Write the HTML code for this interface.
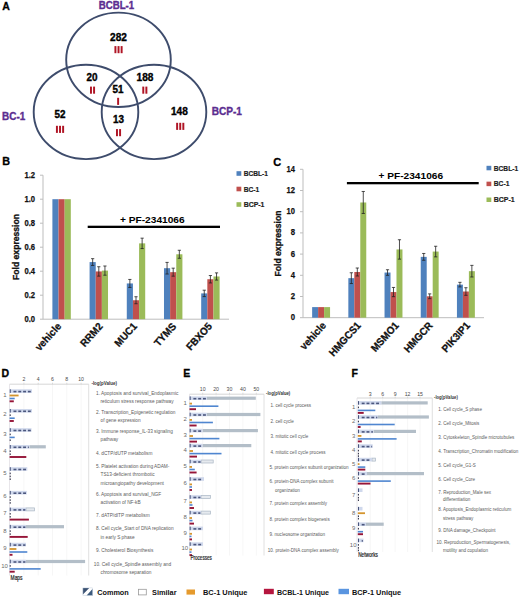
<!DOCTYPE html>
<html><head><meta charset="utf-8"><title>Figure</title>
<style>
html,body{margin:0;padding:0;background:#fff;}
body{width:520px;height:597px;overflow:hidden;}
svg{display:block;font-family:"Liberation Sans", sans-serif;}
</style></head>
<body>
<svg width="520" height="597" viewBox="0 0 520 597">
<rect x="0" y="0" width="520" height="597" fill="#fff"/>
<text x="2.30" y="9.80" font-size="10.5" font-weight="bold" fill="#000" stroke="#000" stroke-width="0.3">A</text>
<ellipse cx="118.5" cy="59.8" rx="52.3" ry="47.2" fill="none" stroke="#3e4c6c" stroke-width="1.9"/>
<ellipse cx="86.0" cy="111.9" rx="52.3" ry="47.2" fill="none" stroke="#3e4c6c" stroke-width="1.9"/>
<ellipse cx="154.0" cy="111.9" rx="52.3" ry="47.2" fill="none" stroke="#3e4c6c" stroke-width="1.9"/>
<text x="116.50" y="8.70" font-size="10.2" font-weight="bold" fill="#5b2d90" text-anchor="middle" textLength="35.4" lengthAdjust="spacingAndGlyphs" stroke="#5b2d90" stroke-width="0.35">BCBL-1</text>
<text x="13.70" y="119.70" font-size="10.7" font-weight="bold" fill="#5b2d90" text-anchor="middle" textLength="23.2" lengthAdjust="spacingAndGlyphs" stroke="#5b2d90" stroke-width="0.35">BC-1</text>
<text x="226.80" y="115.40" font-size="10.7" font-weight="bold" fill="#5b2d90" text-anchor="middle" textLength="30.3" lengthAdjust="spacingAndGlyphs" stroke="#5b2d90" stroke-width="0.35">BCP-1</text>
<text x="118.50" y="40.80" font-size="10" font-weight="bold" fill="#000" text-anchor="middle" textLength="16.9" lengthAdjust="spacingAndGlyphs" stroke="#000" stroke-width="0.35">282</text>
<rect x="114.45" y="46.10" width="1.95" height="7.10" fill="#b01525"/>
<rect x="117.55" y="46.10" width="1.95" height="7.10" fill="#b01525"/>
<rect x="120.65" y="46.10" width="1.95" height="7.10" fill="#b01525"/>
<text x="92.10" y="80.80" font-size="10" font-weight="bold" fill="#000" text-anchor="middle" textLength="11.0" lengthAdjust="spacingAndGlyphs" stroke="#000" stroke-width="0.35">20</text>
<rect x="90.00" y="86.60" width="1.95" height="7.10" fill="#b01525"/>
<rect x="93.10" y="86.60" width="1.95" height="7.10" fill="#b01525"/>
<text x="118.10" y="93.30" font-size="10" font-weight="bold" fill="#000" text-anchor="middle" textLength="11.0" lengthAdjust="spacingAndGlyphs" stroke="#000" stroke-width="0.35">51</text>
<rect x="117.15" y="97.80" width="1.95" height="7.10" fill="#b01525"/>
<text x="60.00" y="117.60" font-size="10" font-weight="bold" fill="#000" text-anchor="middle" textLength="11.0" lengthAdjust="spacingAndGlyphs" stroke="#000" stroke-width="0.35">52</text>
<rect x="55.95" y="125.80" width="1.95" height="7.10" fill="#b01525"/>
<rect x="59.05" y="125.80" width="1.95" height="7.10" fill="#b01525"/>
<rect x="62.15" y="125.80" width="1.95" height="7.10" fill="#b01525"/>
<text x="118.40" y="123.40" font-size="10" font-weight="bold" fill="#000" text-anchor="middle" textLength="11.0" lengthAdjust="spacingAndGlyphs" stroke="#000" stroke-width="0.35">13</text>
<rect x="116.00" y="129.10" width="1.95" height="7.10" fill="#b01525"/>
<rect x="119.10" y="129.10" width="1.95" height="7.10" fill="#b01525"/>
<text x="145.00" y="80.80" font-size="10" font-weight="bold" fill="#000" text-anchor="middle" textLength="16.9" lengthAdjust="spacingAndGlyphs" stroke="#000" stroke-width="0.35">188</text>
<rect x="142.30" y="86.60" width="1.95" height="7.10" fill="#b01525"/>
<rect x="145.40" y="86.60" width="1.95" height="7.10" fill="#b01525"/>
<text x="179.40" y="115.10" font-size="10" font-weight="bold" fill="#000" text-anchor="middle" textLength="16.9" lengthAdjust="spacingAndGlyphs" stroke="#000" stroke-width="0.35">148</text>
<rect x="176.15" y="122.80" width="1.95" height="7.10" fill="#b01525"/>
<rect x="179.25" y="122.80" width="1.95" height="7.10" fill="#b01525"/>
<rect x="182.35" y="122.80" width="1.95" height="7.10" fill="#b01525"/>
<text x="2.30" y="165.20" font-size="10.8" font-weight="bold" fill="#000" stroke="#000" stroke-width="0.3">B</text>
<line x1="43.00" y1="175.20" x2="43.00" y2="319.20" stroke="#bdbdbd" stroke-width="1"/>
<line x1="40.00" y1="319.20" x2="43.00" y2="319.20" stroke="#bdbdbd" stroke-width="1"/>
<text x="35.00" y="321.60" font-size="8.6" font-weight="bold" fill="#111" text-anchor="end" textLength="10.6" lengthAdjust="spacingAndGlyphs" stroke="#111" stroke-width="0.25">0.0</text>
<line x1="40.00" y1="295.20" x2="43.00" y2="295.20" stroke="#bdbdbd" stroke-width="1"/>
<text x="35.00" y="297.60" font-size="8.6" font-weight="bold" fill="#111" text-anchor="end" textLength="10.6" lengthAdjust="spacingAndGlyphs" stroke="#111" stroke-width="0.25">0.2</text>
<line x1="40.00" y1="271.20" x2="43.00" y2="271.20" stroke="#bdbdbd" stroke-width="1"/>
<text x="35.00" y="273.60" font-size="8.6" font-weight="bold" fill="#111" text-anchor="end" textLength="10.6" lengthAdjust="spacingAndGlyphs" stroke="#111" stroke-width="0.25">0.4</text>
<line x1="40.00" y1="247.20" x2="43.00" y2="247.20" stroke="#bdbdbd" stroke-width="1"/>
<text x="35.00" y="249.60" font-size="8.6" font-weight="bold" fill="#111" text-anchor="end" textLength="10.6" lengthAdjust="spacingAndGlyphs" stroke="#111" stroke-width="0.25">0.6</text>
<line x1="40.00" y1="223.20" x2="43.00" y2="223.20" stroke="#bdbdbd" stroke-width="1"/>
<text x="35.00" y="225.60" font-size="8.6" font-weight="bold" fill="#111" text-anchor="end" textLength="10.6" lengthAdjust="spacingAndGlyphs" stroke="#111" stroke-width="0.25">0.8</text>
<line x1="40.00" y1="199.20" x2="43.00" y2="199.20" stroke="#bdbdbd" stroke-width="1"/>
<text x="35.00" y="201.60" font-size="8.6" font-weight="bold" fill="#111" text-anchor="end" textLength="10.6" lengthAdjust="spacingAndGlyphs" stroke="#111" stroke-width="0.25">1.0</text>
<line x1="40.00" y1="175.20" x2="43.00" y2="175.20" stroke="#bdbdbd" stroke-width="1"/>
<text x="35.00" y="177.60" font-size="8.6" font-weight="bold" fill="#111" text-anchor="end" textLength="10.6" lengthAdjust="spacingAndGlyphs" stroke="#111" stroke-width="0.25">1.2</text>
<line x1="43.00" y1="319.20" x2="229.00" y2="319.20" stroke="#bdbdbd" stroke-width="1"/>
<rect x="52.39" y="199.20" width="6.14" height="120.00" fill="#4f81bd"/>
<rect x="58.53" y="199.20" width="6.14" height="120.00" fill="#c0504d"/>
<rect x="64.67" y="199.20" width="6.14" height="120.00" fill="#9bbb59"/>
<text transform="translate(61.90,326.80) rotate(-48)" font-size="10.4" font-weight="bold" fill="#111" stroke="#111" stroke-width="0.3" text-anchor="end" textLength="33.15" lengthAdjust="spacingAndGlyphs">vehicle</text>
<rect x="89.59" y="262.08" width="6.14" height="57.12" fill="#4f81bd"/>
<rect x="95.73" y="271.44" width="6.14" height="47.76" fill="#c0504d"/>
<rect x="101.87" y="270.60" width="6.14" height="48.60" fill="#9bbb59"/>
<line x1="92.66" y1="258.68" x2="92.66" y2="265.48" stroke="#222" stroke-width="0.8"/>
<line x1="91.06" y1="258.68" x2="94.26" y2="258.68" stroke="#222" stroke-width="0.8"/>
<line x1="91.06" y1="265.48" x2="94.26" y2="265.48" stroke="#222" stroke-width="0.8"/>
<line x1="98.80" y1="266.74" x2="98.80" y2="276.14" stroke="#222" stroke-width="0.8"/>
<line x1="97.20" y1="266.74" x2="100.40" y2="266.74" stroke="#222" stroke-width="0.8"/>
<line x1="97.20" y1="276.14" x2="100.40" y2="276.14" stroke="#222" stroke-width="0.8"/>
<line x1="104.94" y1="266.00" x2="104.94" y2="275.20" stroke="#222" stroke-width="0.8"/>
<line x1="103.34" y1="266.00" x2="106.54" y2="266.00" stroke="#222" stroke-width="0.8"/>
<line x1="103.34" y1="275.20" x2="106.54" y2="275.20" stroke="#222" stroke-width="0.8"/>
<text transform="translate(103.30,326.80) rotate(-48)" font-size="10.4" font-weight="bold" fill="#111" stroke="#111" stroke-width="0.3" text-anchor="end" textLength="27.70" lengthAdjust="spacingAndGlyphs">RRM2</text>
<rect x="126.79" y="283.44" width="6.14" height="35.76" fill="#4f81bd"/>
<rect x="132.93" y="300.24" width="6.14" height="18.96" fill="#c0504d"/>
<rect x="139.07" y="243.36" width="6.14" height="75.84" fill="#9bbb59"/>
<line x1="129.86" y1="279.44" x2="129.86" y2="287.44" stroke="#222" stroke-width="0.8"/>
<line x1="128.26" y1="279.44" x2="131.46" y2="279.44" stroke="#222" stroke-width="0.8"/>
<line x1="128.26" y1="287.44" x2="131.46" y2="287.44" stroke="#222" stroke-width="0.8"/>
<line x1="136.00" y1="296.74" x2="136.00" y2="303.74" stroke="#222" stroke-width="0.8"/>
<line x1="134.40" y1="296.74" x2="137.60" y2="296.74" stroke="#222" stroke-width="0.8"/>
<line x1="134.40" y1="303.74" x2="137.60" y2="303.74" stroke="#222" stroke-width="0.8"/>
<line x1="142.14" y1="238.16" x2="142.14" y2="248.56" stroke="#222" stroke-width="0.8"/>
<line x1="140.54" y1="238.16" x2="143.74" y2="238.16" stroke="#222" stroke-width="0.8"/>
<line x1="140.54" y1="248.56" x2="143.74" y2="248.56" stroke="#222" stroke-width="0.8"/>
<text transform="translate(137.60,326.80) rotate(-48)" font-size="10.4" font-weight="bold" fill="#111" stroke="#111" stroke-width="0.3" text-anchor="end" textLength="27.70" lengthAdjust="spacingAndGlyphs">MUC1</text>
<rect x="163.99" y="268.20" width="6.14" height="51.00" fill="#4f81bd"/>
<rect x="170.13" y="272.16" width="6.14" height="47.04" fill="#c0504d"/>
<rect x="176.27" y="254.28" width="6.14" height="64.92" fill="#9bbb59"/>
<line x1="167.06" y1="262.40" x2="167.06" y2="274.00" stroke="#222" stroke-width="0.8"/>
<line x1="165.46" y1="262.40" x2="168.66" y2="262.40" stroke="#222" stroke-width="0.8"/>
<line x1="165.46" y1="274.00" x2="168.66" y2="274.00" stroke="#222" stroke-width="0.8"/>
<line x1="173.20" y1="268.16" x2="173.20" y2="276.16" stroke="#222" stroke-width="0.8"/>
<line x1="171.60" y1="268.16" x2="174.80" y2="268.16" stroke="#222" stroke-width="0.8"/>
<line x1="171.60" y1="276.16" x2="174.80" y2="276.16" stroke="#222" stroke-width="0.8"/>
<line x1="179.34" y1="250.28" x2="179.34" y2="258.28" stroke="#222" stroke-width="0.8"/>
<line x1="177.74" y1="250.28" x2="180.94" y2="250.28" stroke="#222" stroke-width="0.8"/>
<line x1="177.74" y1="258.28" x2="180.94" y2="258.28" stroke="#222" stroke-width="0.8"/>
<text transform="translate(176.80,326.80) rotate(-48)" font-size="10.4" font-weight="bold" fill="#111" stroke="#111" stroke-width="0.3" text-anchor="end" textLength="27.16" lengthAdjust="spacingAndGlyphs">TYMS</text>
<rect x="201.19" y="293.40" width="6.14" height="25.80" fill="#4f81bd"/>
<rect x="207.33" y="279.24" width="6.14" height="39.96" fill="#c0504d"/>
<rect x="213.47" y="276.48" width="6.14" height="42.72" fill="#9bbb59"/>
<line x1="204.26" y1="290.20" x2="204.26" y2="296.60" stroke="#222" stroke-width="0.8"/>
<line x1="202.66" y1="290.20" x2="205.86" y2="290.20" stroke="#222" stroke-width="0.8"/>
<line x1="202.66" y1="296.60" x2="205.86" y2="296.60" stroke="#222" stroke-width="0.8"/>
<line x1="210.40" y1="275.54" x2="210.40" y2="282.94" stroke="#222" stroke-width="0.8"/>
<line x1="208.80" y1="275.54" x2="212.00" y2="275.54" stroke="#222" stroke-width="0.8"/>
<line x1="208.80" y1="282.94" x2="212.00" y2="282.94" stroke="#222" stroke-width="0.8"/>
<line x1="216.54" y1="272.88" x2="216.54" y2="280.08" stroke="#222" stroke-width="0.8"/>
<line x1="214.94" y1="272.88" x2="218.14" y2="272.88" stroke="#222" stroke-width="0.8"/>
<line x1="214.94" y1="280.08" x2="218.14" y2="280.08" stroke="#222" stroke-width="0.8"/>
<text transform="translate(212.60,326.80) rotate(-48)" font-size="10.4" font-weight="bold" fill="#111" stroke="#111" stroke-width="0.3" text-anchor="end" textLength="32.59" lengthAdjust="spacingAndGlyphs">FBXO5</text>
<text transform="translate(19.00,247.00) rotate(-90)" font-size="8.6" font-weight="bold" fill="#111" stroke="#111" stroke-width="0.3" text-anchor="middle">Fold expression</text>
<text x="152.30" y="223.20" font-size="9.6" font-weight="bold" fill="#000" text-anchor="middle" textLength="64.6" lengthAdjust="spacingAndGlyphs">+ PF-2341066</text>
<rect x="87.70" y="225.70" width="132.30" height="2.30" fill="#000"/>
<rect x="236.50" y="171.20" width="4.80" height="4.60" fill="#4f81bd"/>
<text x="243.70" y="176.10" font-size="7" font-weight="bold" fill="#222" textLength="24.2" lengthAdjust="spacingAndGlyphs" stroke="#222" stroke-width="0.2">BCBL-1</text>
<rect x="236.50" y="186.70" width="4.80" height="4.60" fill="#c0504d"/>
<text x="243.70" y="191.60" font-size="7" font-weight="bold" fill="#222" textLength="15.6" lengthAdjust="spacingAndGlyphs" stroke="#222" stroke-width="0.2">BC-1</text>
<rect x="236.50" y="202.20" width="4.80" height="4.60" fill="#9bbb59"/>
<text x="243.70" y="207.10" font-size="7" font-weight="bold" fill="#222" textLength="20.8" lengthAdjust="spacingAndGlyphs" stroke="#222" stroke-width="0.2">BCP-1</text>
<text x="273.20" y="165.50" font-size="11" font-weight="bold" fill="#000" stroke="#000" stroke-width="0.3">C</text>
<line x1="303.00" y1="169.30" x2="303.00" y2="317.70" stroke="#bdbdbd" stroke-width="1"/>
<line x1="300.00" y1="317.70" x2="303.00" y2="317.70" stroke="#bdbdbd" stroke-width="1"/>
<text x="295.00" y="320.10" font-size="8.6" font-weight="bold" fill="#111" text-anchor="end" textLength="4.3" lengthAdjust="spacingAndGlyphs" stroke="#111" stroke-width="0.25">0</text>
<line x1="300.00" y1="296.50" x2="303.00" y2="296.50" stroke="#bdbdbd" stroke-width="1"/>
<text x="295.00" y="298.90" font-size="8.6" font-weight="bold" fill="#111" text-anchor="end" textLength="4.3" lengthAdjust="spacingAndGlyphs" stroke="#111" stroke-width="0.25">2</text>
<line x1="300.00" y1="275.30" x2="303.00" y2="275.30" stroke="#bdbdbd" stroke-width="1"/>
<text x="295.00" y="277.70" font-size="8.6" font-weight="bold" fill="#111" text-anchor="end" textLength="4.3" lengthAdjust="spacingAndGlyphs" stroke="#111" stroke-width="0.25">4</text>
<line x1="300.00" y1="254.10" x2="303.00" y2="254.10" stroke="#bdbdbd" stroke-width="1"/>
<text x="295.00" y="256.50" font-size="8.6" font-weight="bold" fill="#111" text-anchor="end" textLength="4.3" lengthAdjust="spacingAndGlyphs" stroke="#111" stroke-width="0.25">6</text>
<line x1="300.00" y1="232.90" x2="303.00" y2="232.90" stroke="#bdbdbd" stroke-width="1"/>
<text x="295.00" y="235.30" font-size="8.6" font-weight="bold" fill="#111" text-anchor="end" textLength="4.3" lengthAdjust="spacingAndGlyphs" stroke="#111" stroke-width="0.25">8</text>
<line x1="300.00" y1="211.70" x2="303.00" y2="211.70" stroke="#bdbdbd" stroke-width="1"/>
<text x="295.00" y="214.10" font-size="8.6" font-weight="bold" fill="#111" text-anchor="end" textLength="8.4" lengthAdjust="spacingAndGlyphs" stroke="#111" stroke-width="0.25">10</text>
<line x1="300.00" y1="190.50" x2="303.00" y2="190.50" stroke="#bdbdbd" stroke-width="1"/>
<text x="295.00" y="192.90" font-size="8.6" font-weight="bold" fill="#111" text-anchor="end" textLength="8.4" lengthAdjust="spacingAndGlyphs" stroke="#111" stroke-width="0.25">12</text>
<line x1="300.00" y1="169.30" x2="303.00" y2="169.30" stroke="#bdbdbd" stroke-width="1"/>
<text x="295.00" y="171.70" font-size="8.6" font-weight="bold" fill="#111" text-anchor="end" textLength="8.4" lengthAdjust="spacingAndGlyphs" stroke="#111" stroke-width="0.25">14</text>
<line x1="303.00" y1="317.70" x2="484.00" y2="317.70" stroke="#bdbdbd" stroke-width="1"/>
<rect x="312.14" y="307.10" width="5.97" height="10.60" fill="#4f81bd"/>
<rect x="318.11" y="307.10" width="5.97" height="10.60" fill="#c0504d"/>
<rect x="324.09" y="307.10" width="5.97" height="10.60" fill="#9bbb59"/>
<text transform="translate(326.70,325.90) rotate(-48)" font-size="10.4" font-weight="bold" fill="#111" stroke="#111" stroke-width="0.3" text-anchor="end" textLength="33.15" lengthAdjust="spacingAndGlyphs">vehicle</text>
<rect x="348.34" y="278.16" width="5.97" height="39.54" fill="#4f81bd"/>
<rect x="354.31" y="272.01" width="5.97" height="45.69" fill="#c0504d"/>
<rect x="360.29" y="202.48" width="5.97" height="115.22" fill="#9bbb59"/>
<line x1="351.33" y1="272.76" x2="351.33" y2="283.56" stroke="#222" stroke-width="0.8"/>
<line x1="349.73" y1="272.76" x2="352.93" y2="272.76" stroke="#222" stroke-width="0.8"/>
<line x1="349.73" y1="283.56" x2="352.93" y2="283.56" stroke="#222" stroke-width="0.8"/>
<line x1="357.30" y1="268.01" x2="357.30" y2="276.01" stroke="#222" stroke-width="0.8"/>
<line x1="355.70" y1="268.01" x2="358.90" y2="268.01" stroke="#222" stroke-width="0.8"/>
<line x1="355.70" y1="276.01" x2="358.90" y2="276.01" stroke="#222" stroke-width="0.8"/>
<line x1="363.27" y1="191.48" x2="363.27" y2="213.48" stroke="#222" stroke-width="0.8"/>
<line x1="361.67" y1="191.48" x2="364.87" y2="191.48" stroke="#222" stroke-width="0.8"/>
<line x1="361.67" y1="213.48" x2="364.87" y2="213.48" stroke="#222" stroke-width="0.8"/>
<text transform="translate(361.40,325.90) rotate(-48)" font-size="10.4" font-weight="bold" fill="#111" stroke="#111" stroke-width="0.3" text-anchor="end" textLength="41.82" lengthAdjust="spacingAndGlyphs">HMGCS1</text>
<rect x="384.54" y="272.54" width="5.97" height="45.16" fill="#4f81bd"/>
<rect x="390.51" y="292.05" width="5.97" height="25.65" fill="#c0504d"/>
<rect x="396.49" y="249.44" width="5.97" height="68.26" fill="#9bbb59"/>
<line x1="387.53" y1="269.74" x2="387.53" y2="275.34" stroke="#222" stroke-width="0.8"/>
<line x1="385.93" y1="269.74" x2="389.13" y2="269.74" stroke="#222" stroke-width="0.8"/>
<line x1="385.93" y1="275.34" x2="389.13" y2="275.34" stroke="#222" stroke-width="0.8"/>
<line x1="393.50" y1="287.45" x2="393.50" y2="296.65" stroke="#222" stroke-width="0.8"/>
<line x1="391.90" y1="287.45" x2="395.10" y2="287.45" stroke="#222" stroke-width="0.8"/>
<line x1="391.90" y1="296.65" x2="395.10" y2="296.65" stroke="#222" stroke-width="0.8"/>
<line x1="399.47" y1="239.74" x2="399.47" y2="259.14" stroke="#222" stroke-width="0.8"/>
<line x1="397.87" y1="239.74" x2="401.07" y2="239.74" stroke="#222" stroke-width="0.8"/>
<line x1="397.87" y1="259.14" x2="401.07" y2="259.14" stroke="#222" stroke-width="0.8"/>
<text transform="translate(399.40,325.90) rotate(-48)" font-size="10.4" font-weight="bold" fill="#111" stroke="#111" stroke-width="0.3" text-anchor="end" textLength="35.85" lengthAdjust="spacingAndGlyphs">MSMO1</text>
<rect x="420.74" y="256.86" width="5.97" height="60.84" fill="#4f81bd"/>
<rect x="426.71" y="296.29" width="5.97" height="21.41" fill="#c0504d"/>
<rect x="432.69" y="251.56" width="5.97" height="66.14" fill="#9bbb59"/>
<line x1="423.73" y1="253.46" x2="423.73" y2="260.26" stroke="#222" stroke-width="0.8"/>
<line x1="422.13" y1="253.46" x2="425.33" y2="253.46" stroke="#222" stroke-width="0.8"/>
<line x1="422.13" y1="260.26" x2="425.33" y2="260.26" stroke="#222" stroke-width="0.8"/>
<line x1="429.70" y1="293.89" x2="429.70" y2="298.69" stroke="#222" stroke-width="0.8"/>
<line x1="428.10" y1="293.89" x2="431.30" y2="293.89" stroke="#222" stroke-width="0.8"/>
<line x1="428.10" y1="298.69" x2="431.30" y2="298.69" stroke="#222" stroke-width="0.8"/>
<line x1="435.67" y1="246.26" x2="435.67" y2="256.86" stroke="#222" stroke-width="0.8"/>
<line x1="434.07" y1="246.26" x2="437.27" y2="246.26" stroke="#222" stroke-width="0.8"/>
<line x1="434.07" y1="256.86" x2="437.27" y2="256.86" stroke="#222" stroke-width="0.8"/>
<text transform="translate(433.10,325.90) rotate(-48)" font-size="10.4" font-weight="bold" fill="#111" stroke="#111" stroke-width="0.3" text-anchor="end" textLength="36.93" lengthAdjust="spacingAndGlyphs">HMGCR</text>
<rect x="456.94" y="284.63" width="5.97" height="33.07" fill="#4f81bd"/>
<rect x="462.91" y="291.52" width="5.97" height="26.18" fill="#c0504d"/>
<rect x="468.89" y="271.17" width="5.97" height="46.53" fill="#9bbb59"/>
<line x1="459.93" y1="282.33" x2="459.93" y2="286.93" stroke="#222" stroke-width="0.8"/>
<line x1="458.33" y1="282.33" x2="461.53" y2="282.33" stroke="#222" stroke-width="0.8"/>
<line x1="458.33" y1="286.93" x2="461.53" y2="286.93" stroke="#222" stroke-width="0.8"/>
<line x1="465.90" y1="287.72" x2="465.90" y2="295.32" stroke="#222" stroke-width="0.8"/>
<line x1="464.30" y1="287.72" x2="467.50" y2="287.72" stroke="#222" stroke-width="0.8"/>
<line x1="464.30" y1="295.32" x2="467.50" y2="295.32" stroke="#222" stroke-width="0.8"/>
<line x1="471.87" y1="265.37" x2="471.87" y2="276.97" stroke="#222" stroke-width="0.8"/>
<line x1="470.27" y1="265.37" x2="473.47" y2="265.37" stroke="#222" stroke-width="0.8"/>
<line x1="470.27" y1="276.97" x2="473.47" y2="276.97" stroke="#222" stroke-width="0.8"/>
<text transform="translate(470.60,325.90) rotate(-48)" font-size="10.4" font-weight="bold" fill="#111" stroke="#111" stroke-width="0.3" text-anchor="end" textLength="36.41" lengthAdjust="spacingAndGlyphs">PIK3IP1</text>
<text transform="translate(280.90,243.50) rotate(-90)" font-size="8.6" font-weight="bold" fill="#111" stroke="#111" stroke-width="0.3" text-anchor="middle">Fold expression</text>
<text x="410.80" y="179.00" font-size="9.6" font-weight="bold" fill="#000" text-anchor="middle" textLength="64.5" lengthAdjust="spacingAndGlyphs">+ PF-2341066</text>
<rect x="346.90" y="182.00" width="131.80" height="2.30" fill="#000"/>
<rect x="486.50" y="165.80" width="4.80" height="4.50" fill="#4f81bd"/>
<text x="493.80" y="170.60" font-size="7" font-weight="bold" fill="#222" textLength="24.3" lengthAdjust="spacingAndGlyphs" stroke="#222" stroke-width="0.2">BCBL-1</text>
<rect x="486.50" y="181.65" width="4.80" height="4.50" fill="#c0504d"/>
<text x="493.80" y="186.45" font-size="7" font-weight="bold" fill="#222" textLength="15.6" lengthAdjust="spacingAndGlyphs" stroke="#222" stroke-width="0.2">BC-1</text>
<rect x="486.50" y="197.50" width="4.80" height="4.50" fill="#9bbb59"/>
<text x="493.80" y="202.30" font-size="7" font-weight="bold" fill="#222" textLength="20.9" lengthAdjust="spacingAndGlyphs" stroke="#222" stroke-width="0.2">BCP-1</text>
<text x="1.50" y="377.20" font-size="10.5" font-weight="bold" fill="#000" stroke="#000" stroke-width="0.3">D</text>
<line x1="23.90" y1="384.20" x2="23.90" y2="575.50" stroke="#f0f0f0" stroke-width="0.6"/>
<line x1="38.20" y1="384.20" x2="38.20" y2="575.50" stroke="#f0f0f0" stroke-width="0.6"/>
<line x1="52.50" y1="384.20" x2="52.50" y2="575.50" stroke="#f0f0f0" stroke-width="0.6"/>
<line x1="66.80" y1="384.20" x2="66.80" y2="575.50" stroke="#f0f0f0" stroke-width="0.6"/>
<line x1="81.10" y1="384.20" x2="81.10" y2="575.50" stroke="#f0f0f0" stroke-width="0.6"/>
<line x1="9.50" y1="384.20" x2="88.70" y2="384.20" stroke="#cccccc" stroke-width="0.8"/>
<line x1="9.50" y1="384.20" x2="9.50" y2="575.50" stroke="#e2dfe4" stroke-width="0.8"/>
<line x1="88.70" y1="384.20" x2="88.70" y2="575.50" stroke="#d8d8d8" stroke-width="0.8"/>
<line x1="23.90" y1="382.70" x2="23.90" y2="384.20" stroke="#c8c8c8" stroke-width="0.6"/>
<text x="23.90" y="381.40" font-size="5.2" fill="#4a4a4a" text-anchor="middle">2</text>
<line x1="38.20" y1="382.70" x2="38.20" y2="384.20" stroke="#c8c8c8" stroke-width="0.6"/>
<text x="38.20" y="381.40" font-size="5.2" fill="#4a4a4a" text-anchor="middle">4</text>
<line x1="52.50" y1="382.70" x2="52.50" y2="384.20" stroke="#c8c8c8" stroke-width="0.6"/>
<text x="52.50" y="381.40" font-size="5.2" fill="#4a4a4a" text-anchor="middle">6</text>
<line x1="66.80" y1="382.70" x2="66.80" y2="384.20" stroke="#c8c8c8" stroke-width="0.6"/>
<text x="66.80" y="381.40" font-size="5.2" fill="#4a4a4a" text-anchor="middle">8</text>
<line x1="81.10" y1="382.70" x2="81.10" y2="384.20" stroke="#c8c8c8" stroke-width="0.6"/>
<text x="81.10" y="381.40" font-size="5.2" fill="#4a4a4a" text-anchor="middle">10</text>
<rect x="9.60" y="389.30" width="22.40" height="3.60" fill="#cfd8ec"/>
<rect x="9.80" y="389.30" width="0.90" height="3.60" fill="#3a4670"/>
<rect x="13.50" y="390.80" width="2.90" height="1.60" fill="#34406a" fill-opacity="0.85"/>
<rect x="18.30" y="390.80" width="2.90" height="1.60" fill="#34406a" fill-opacity="0.85"/>
<rect x="23.10" y="390.80" width="2.90" height="1.60" fill="#34406a" fill-opacity="0.85"/>
<rect x="27.90" y="390.80" width="2.90" height="1.60" fill="#34406a" fill-opacity="0.85"/>
<rect x="9.60" y="394.60" width="9.00" height="1.80" fill="#d4952e"/>
<rect x="9.60" y="397.70" width="5.10" height="1.60" fill="#4f86d0"/>
<rect x="9.60" y="400.35" width="4.20" height="1.90" fill="#961538"/>
<rect x="9.60" y="409.00" width="22.40" height="3.60" fill="#cfd8ec"/>
<rect x="9.80" y="409.00" width="0.90" height="3.60" fill="#3a4670"/>
<rect x="13.50" y="410.50" width="2.90" height="1.60" fill="#34406a" fill-opacity="0.85"/>
<rect x="18.30" y="410.50" width="2.90" height="1.60" fill="#34406a" fill-opacity="0.85"/>
<rect x="23.10" y="410.50" width="2.90" height="1.60" fill="#34406a" fill-opacity="0.85"/>
<rect x="27.90" y="410.50" width="2.90" height="1.60" fill="#34406a" fill-opacity="0.85"/>
<rect x="9.70" y="414.40" width="1.00" height="1.60" fill="#2a2a40"/>
<rect x="9.60" y="417.40" width="5.10" height="1.60" fill="#4f86d0"/>
<rect x="9.60" y="420.05" width="4.20" height="1.90" fill="#961538"/>
<rect x="9.60" y="428.20" width="21.90" height="3.60" fill="#cfd8ec"/>
<rect x="9.80" y="428.20" width="0.90" height="3.60" fill="#3a4670"/>
<rect x="13.50" y="429.70" width="2.90" height="1.60" fill="#34406a" fill-opacity="0.85"/>
<rect x="18.30" y="429.70" width="2.90" height="1.60" fill="#34406a" fill-opacity="0.85"/>
<rect x="23.10" y="429.70" width="2.90" height="1.60" fill="#34406a" fill-opacity="0.85"/>
<rect x="27.90" y="429.70" width="2.90" height="1.60" fill="#34406a" fill-opacity="0.85"/>
<rect x="9.70" y="433.60" width="1.00" height="1.60" fill="#2a2a40"/>
<rect x="9.60" y="436.60" width="5.10" height="1.60" fill="#4f86d0"/>
<rect x="9.70" y="439.40" width="1.00" height="1.60" fill="#2a2a40"/>
<rect x="29.40" y="445.20" width="16.40" height="3.20" fill="#b3bec8"/>
<rect x="9.60" y="445.00" width="19.80" height="3.60" fill="#cfd8ec"/>
<rect x="9.80" y="445.00" width="0.90" height="3.60" fill="#3a4670"/>
<rect x="13.50" y="446.50" width="2.90" height="1.60" fill="#34406a" fill-opacity="0.85"/>
<rect x="18.30" y="446.50" width="2.90" height="1.60" fill="#34406a" fill-opacity="0.85"/>
<rect x="23.10" y="446.50" width="2.90" height="1.60" fill="#34406a" fill-opacity="0.85"/>
<rect x="27.90" y="446.50" width="0.90" height="1.60" fill="#34406a" fill-opacity="0.85"/>
<rect x="9.70" y="450.40" width="1.00" height="1.60" fill="#2a2a40"/>
<rect x="9.70" y="453.40" width="1.00" height="1.60" fill="#2a2a40"/>
<rect x="9.60" y="456.05" width="16.70" height="1.90" fill="#961538"/>
<rect x="9.60" y="467.20" width="17.70" height="3.60" fill="#cfd8ec"/>
<rect x="9.80" y="467.20" width="0.90" height="3.60" fill="#3a4670"/>
<rect x="13.50" y="468.70" width="2.90" height="1.60" fill="#34406a" fill-opacity="0.85"/>
<rect x="18.30" y="468.70" width="2.90" height="1.60" fill="#34406a" fill-opacity="0.85"/>
<rect x="23.10" y="468.70" width="2.90" height="1.60" fill="#34406a" fill-opacity="0.85"/>
<rect x="9.70" y="472.60" width="1.00" height="1.60" fill="#2a2a40"/>
<rect x="9.70" y="475.60" width="1.00" height="1.60" fill="#2a2a40"/>
<rect x="9.70" y="478.40" width="1.00" height="1.60" fill="#2a2a40"/>
<rect x="9.60" y="490.90" width="17.20" height="3.60" fill="#cfd8ec"/>
<rect x="9.80" y="490.90" width="0.90" height="3.60" fill="#3a4670"/>
<rect x="13.50" y="492.40" width="2.90" height="1.60" fill="#34406a" fill-opacity="0.85"/>
<rect x="18.30" y="492.40" width="2.90" height="1.60" fill="#34406a" fill-opacity="0.85"/>
<rect x="23.10" y="492.40" width="2.90" height="1.60" fill="#34406a" fill-opacity="0.85"/>
<rect x="9.70" y="496.30" width="1.00" height="1.60" fill="#2a2a40"/>
<rect x="9.70" y="499.30" width="1.00" height="1.60" fill="#2a2a40"/>
<rect x="9.70" y="502.10" width="1.00" height="1.60" fill="#2a2a40"/>
<rect x="26.00" y="507.90" width="8.60" height="3.00" fill="#e6eaef" stroke="#a9b6c4" stroke-width="0.7"/>
<rect x="9.60" y="507.60" width="16.40" height="3.60" fill="#cfd8ec"/>
<rect x="9.80" y="507.60" width="0.90" height="3.60" fill="#3a4670"/>
<rect x="13.50" y="509.10" width="2.90" height="1.60" fill="#34406a" fill-opacity="0.85"/>
<rect x="18.30" y="509.10" width="2.90" height="1.60" fill="#34406a" fill-opacity="0.85"/>
<rect x="23.10" y="509.10" width="2.30" height="1.60" fill="#34406a" fill-opacity="0.85"/>
<rect x="9.70" y="513.00" width="1.00" height="1.60" fill="#2a2a40"/>
<rect x="9.70" y="516.00" width="1.00" height="1.60" fill="#2a2a40"/>
<rect x="9.60" y="518.65" width="19.30" height="1.90" fill="#961538"/>
<rect x="26.00" y="525.10" width="38.00" height="3.20" fill="#b3bec8"/>
<rect x="9.60" y="524.90" width="16.40" height="3.60" fill="#cfd8ec"/>
<rect x="9.80" y="524.90" width="0.90" height="3.60" fill="#3a4670"/>
<rect x="13.50" y="526.40" width="2.90" height="1.60" fill="#34406a" fill-opacity="0.85"/>
<rect x="18.30" y="526.40" width="2.90" height="1.60" fill="#34406a" fill-opacity="0.85"/>
<rect x="23.10" y="526.40" width="2.30" height="1.60" fill="#34406a" fill-opacity="0.85"/>
<rect x="9.70" y="530.30" width="1.00" height="1.60" fill="#2a2a40"/>
<rect x="9.70" y="533.30" width="1.00" height="1.60" fill="#2a2a40"/>
<rect x="9.60" y="535.95" width="18.10" height="1.90" fill="#961538"/>
<rect x="9.60" y="542.80" width="16.40" height="3.60" fill="#cfd8ec"/>
<rect x="9.80" y="542.80" width="0.90" height="3.60" fill="#3a4670"/>
<rect x="13.50" y="544.30" width="2.90" height="1.60" fill="#34406a" fill-opacity="0.85"/>
<rect x="18.30" y="544.30" width="2.90" height="1.60" fill="#34406a" fill-opacity="0.85"/>
<rect x="23.10" y="544.30" width="2.30" height="1.60" fill="#34406a" fill-opacity="0.85"/>
<rect x="9.60" y="548.10" width="6.80" height="1.80" fill="#d4952e"/>
<rect x="9.60" y="551.20" width="17.70" height="1.60" fill="#4f86d0"/>
<rect x="9.60" y="553.85" width="2.90" height="1.90" fill="#961538"/>
<rect x="26.00" y="559.90" width="59.10" height="3.20" fill="#b3bec8"/>
<rect x="9.60" y="559.70" width="16.40" height="3.60" fill="#cfd8ec"/>
<rect x="9.80" y="559.70" width="0.90" height="3.60" fill="#3a4670"/>
<rect x="13.50" y="561.20" width="2.90" height="1.60" fill="#34406a" fill-opacity="0.85"/>
<rect x="18.30" y="561.20" width="2.90" height="1.60" fill="#34406a" fill-opacity="0.85"/>
<rect x="23.10" y="561.20" width="2.30" height="1.60" fill="#34406a" fill-opacity="0.85"/>
<rect x="9.70" y="565.10" width="1.00" height="1.60" fill="#2a2a40"/>
<rect x="9.60" y="568.10" width="31.10" height="1.60" fill="#4f86d0"/>
<rect x="9.60" y="570.75" width="5.10" height="1.90" fill="#961538"/>
<text x="5.00" y="396.50" font-size="6.0" fill="#6a6a6a" text-anchor="middle">1</text>
<text x="5.00" y="415.90" font-size="6.0" fill="#6a6a6a" text-anchor="middle">2</text>
<text x="5.00" y="436.00" font-size="6.0" fill="#6a6a6a" text-anchor="middle">3</text>
<text x="5.00" y="453.00" font-size="6.0" fill="#6a6a6a" text-anchor="middle">4</text>
<text x="5.00" y="475.00" font-size="6.0" fill="#6a6a6a" text-anchor="middle">5</text>
<text x="5.00" y="498.30" font-size="6.0" fill="#6a6a6a" text-anchor="middle">6</text>
<text x="5.00" y="515.40" font-size="6.0" fill="#6a6a6a" text-anchor="middle">7</text>
<text x="5.00" y="532.70" font-size="6.0" fill="#6a6a6a" text-anchor="middle">8</text>
<text x="5.00" y="550.00" font-size="6.0" fill="#6a6a6a" text-anchor="middle">9</text>
<text x="4.60" y="568.20" font-size="6.0" fill="#6a6a6a" text-anchor="middle">10</text>
<text x="10.60" y="579.90" font-size="6.5" fill="#222" textLength="11.9" lengthAdjust="spacingAndGlyphs" stroke="#222" stroke-width="0.2">Maps</text>
<text x="91.40" y="384.80" font-size="5.2" font-weight="bold" fill="#333" textLength="25.6" lengthAdjust="spacingAndGlyphs">-log(pValue)</text>
<text x="96.00" y="394.60" font-size="4.75" fill="#5c5c5c">1. Apoptosis and survival_Endoplasmic</text>
<text x="100.50" y="402.70" font-size="4.75" fill="#5c5c5c">reticulum stress response pathway</text>
<text x="96.00" y="414.10" font-size="4.75" fill="#5c5c5c">2. Transcription_Epigenetic regulation</text>
<text x="100.50" y="422.00" font-size="4.75" fill="#5c5c5c">of gene expression</text>
<text x="96.00" y="432.90" font-size="4.75" fill="#5c5c5c">3. Immune response_IL-33 signaling</text>
<text x="100.50" y="441.20" font-size="4.75" fill="#5c5c5c">pathway</text>
<text x="96.00" y="454.90" font-size="4.75" fill="#5c5c5c">4. dCTP/dUTP metabolism</text>
<text x="96.00" y="468.10" font-size="4.75" fill="#5c5c5c">5. Platelet activation during ADAM-</text>
<text x="100.50" y="476.30" font-size="4.75" fill="#5c5c5c">TS13-deficient thrombotic</text>
<text x="100.50" y="484.60" font-size="4.75" fill="#5c5c5c">microangiopathy development</text>
<text x="96.00" y="495.50" font-size="4.75" fill="#5c5c5c">6. Apoptosis and survival_NGF</text>
<text x="100.50" y="503.70" font-size="4.75" fill="#5c5c5c">activation of NF-kB</text>
<text x="96.00" y="516.50" font-size="4.75" fill="#5c5c5c">7. dATP/dITP metabolism</text>
<text x="96.00" y="530.30" font-size="4.75" fill="#5c5c5c">8. Cell cycle_Start of DNA replication</text>
<text x="100.50" y="538.50" font-size="4.75" fill="#5c5c5c">in early S phase</text>
<text x="96.00" y="551.70" font-size="4.75" fill="#5c5c5c">9. Cholesterol Biosynthesis</text>
<text x="93.80" y="565.50" font-size="4.75" fill="#5c5c5c">10. Cell cycle_Spindle assembly and</text>
<text x="100.50" y="573.70" font-size="4.75" fill="#5c5c5c">chromosome separation</text>
<text x="183.30" y="377.20" font-size="10.5" font-weight="bold" fill="#000" stroke="#000" stroke-width="0.3">E</text>
<line x1="202.70" y1="394.20" x2="202.70" y2="555.50" stroke="#f0f0f0" stroke-width="0.6"/>
<line x1="216.10" y1="394.20" x2="216.10" y2="555.50" stroke="#f0f0f0" stroke-width="0.6"/>
<line x1="229.50" y1="394.20" x2="229.50" y2="555.50" stroke="#f0f0f0" stroke-width="0.6"/>
<line x1="242.90" y1="394.20" x2="242.90" y2="555.50" stroke="#f0f0f0" stroke-width="0.6"/>
<line x1="256.30" y1="394.20" x2="256.30" y2="555.50" stroke="#f0f0f0" stroke-width="0.6"/>
<line x1="189.50" y1="394.20" x2="264.00" y2="394.20" stroke="#cccccc" stroke-width="0.8"/>
<line x1="189.50" y1="394.20" x2="189.50" y2="555.50" stroke="#e2dfe4" stroke-width="0.8"/>
<line x1="264.00" y1="394.20" x2="264.00" y2="555.50" stroke="#d8d8d8" stroke-width="0.8"/>
<line x1="202.70" y1="392.70" x2="202.70" y2="394.20" stroke="#c8c8c8" stroke-width="0.6"/>
<text x="202.70" y="391.40" font-size="5.2" fill="#4a4a4a" text-anchor="middle">10</text>
<line x1="216.10" y1="392.70" x2="216.10" y2="394.20" stroke="#c8c8c8" stroke-width="0.6"/>
<text x="216.10" y="391.40" font-size="5.2" fill="#4a4a4a" text-anchor="middle">20</text>
<line x1="229.50" y1="392.70" x2="229.50" y2="394.20" stroke="#c8c8c8" stroke-width="0.6"/>
<text x="229.50" y="391.40" font-size="5.2" fill="#4a4a4a" text-anchor="middle">30</text>
<line x1="242.90" y1="392.70" x2="242.90" y2="394.20" stroke="#c8c8c8" stroke-width="0.6"/>
<text x="242.90" y="391.40" font-size="5.2" fill="#4a4a4a" text-anchor="middle">40</text>
<line x1="256.30" y1="392.70" x2="256.30" y2="394.20" stroke="#c8c8c8" stroke-width="0.6"/>
<text x="256.30" y="391.40" font-size="5.2" fill="#4a4a4a" text-anchor="middle">50</text>
<rect x="206.80" y="396.60" width="49.00" height="3.20" fill="#b3bec8"/>
<rect x="189.50" y="396.40" width="17.30" height="3.60" fill="#cfd8ec"/>
<rect x="189.70" y="396.40" width="0.90" height="3.60" fill="#3a4670"/>
<rect x="193.40" y="397.90" width="2.90" height="1.60" fill="#34406a" fill-opacity="0.85"/>
<rect x="198.20" y="397.90" width="2.90" height="1.60" fill="#34406a" fill-opacity="0.85"/>
<rect x="203.00" y="397.90" width="2.90" height="1.60" fill="#34406a" fill-opacity="0.85"/>
<rect x="189.50" y="402.70" width="2.50" height="1.80" fill="#d4952e"/>
<rect x="189.50" y="405.40" width="28.90" height="1.60" fill="#4f86d0"/>
<rect x="189.50" y="408.25" width="6.50" height="1.90" fill="#961538"/>
<rect x="206.80" y="412.90" width="53.60" height="3.20" fill="#b3bec8"/>
<rect x="189.50" y="412.70" width="17.30" height="3.60" fill="#cfd8ec"/>
<rect x="189.70" y="412.70" width="0.90" height="3.60" fill="#3a4670"/>
<rect x="193.40" y="414.20" width="2.90" height="1.60" fill="#34406a" fill-opacity="0.85"/>
<rect x="198.20" y="414.20" width="2.90" height="1.60" fill="#34406a" fill-opacity="0.85"/>
<rect x="203.00" y="414.20" width="2.90" height="1.60" fill="#34406a" fill-opacity="0.85"/>
<rect x="189.50" y="419.00" width="2.50" height="1.80" fill="#d4952e"/>
<rect x="189.50" y="421.70" width="23.40" height="1.60" fill="#4f86d0"/>
<rect x="189.50" y="424.55" width="7.10" height="1.90" fill="#961538"/>
<rect x="202.50" y="429.00" width="55.40" height="3.20" fill="#b3bec8"/>
<rect x="189.50" y="428.80" width="13.00" height="3.60" fill="#cfd8ec"/>
<rect x="189.70" y="428.80" width="0.90" height="3.60" fill="#3a4670"/>
<rect x="193.40" y="430.30" width="2.90" height="1.60" fill="#34406a" fill-opacity="0.85"/>
<rect x="198.20" y="430.30" width="2.90" height="1.60" fill="#34406a" fill-opacity="0.85"/>
<rect x="189.50" y="435.10" width="3.50" height="1.80" fill="#d4952e"/>
<rect x="189.50" y="437.80" width="29.90" height="1.60" fill="#4f86d0"/>
<rect x="189.50" y="440.65" width="7.50" height="1.90" fill="#961538"/>
<rect x="202.50" y="444.00" width="48.80" height="3.20" fill="#b3bec8"/>
<rect x="189.50" y="443.80" width="13.00" height="3.60" fill="#cfd8ec"/>
<rect x="189.70" y="443.80" width="0.90" height="3.60" fill="#3a4670"/>
<rect x="193.40" y="445.30" width="2.90" height="1.60" fill="#34406a" fill-opacity="0.85"/>
<rect x="198.20" y="445.30" width="2.90" height="1.60" fill="#34406a" fill-opacity="0.85"/>
<rect x="189.50" y="450.10" width="3.50" height="1.80" fill="#d4952e"/>
<rect x="189.50" y="452.80" width="32.00" height="1.60" fill="#4f86d0"/>
<rect x="189.50" y="455.65" width="7.50" height="1.90" fill="#961538"/>
<rect x="201.20" y="460.00" width="12.00" height="3.00" fill="#e6eaef" stroke="#a9b6c4" stroke-width="0.7"/>
<rect x="189.50" y="459.70" width="11.70" height="3.60" fill="#cfd8ec"/>
<rect x="189.70" y="459.70" width="0.90" height="3.60" fill="#3a4670"/>
<rect x="193.40" y="461.20" width="2.90" height="1.60" fill="#34406a" fill-opacity="0.85"/>
<rect x="198.20" y="461.20" width="2.40" height="1.60" fill="#34406a" fill-opacity="0.85"/>
<rect x="189.50" y="466.00" width="2.50" height="1.80" fill="#d4952e"/>
<rect x="189.50" y="468.70" width="5.30" height="1.60" fill="#4f86d0"/>
<rect x="189.50" y="471.55" width="7.10" height="1.90" fill="#961538"/>
<rect x="189.50" y="477.20" width="14.50" height="3.60" fill="#cfd8ec"/>
<rect x="189.70" y="477.20" width="0.90" height="3.60" fill="#3a4670"/>
<rect x="193.40" y="478.70" width="2.90" height="1.60" fill="#34406a" fill-opacity="0.85"/>
<rect x="198.20" y="478.70" width="2.90" height="1.60" fill="#34406a" fill-opacity="0.85"/>
<rect x="189.50" y="483.50" width="2.50" height="1.80" fill="#d4952e"/>
<rect x="189.50" y="486.20" width="2.50" height="1.60" fill="#4f86d0"/>
<rect x="189.50" y="489.05" width="2.50" height="1.90" fill="#961538"/>
<rect x="201.00" y="495.50" width="9.40" height="3.00" fill="#e6eaef" stroke="#a9b6c4" stroke-width="0.7"/>
<rect x="189.50" y="495.20" width="11.50" height="3.60" fill="#cfd8ec"/>
<rect x="189.70" y="495.20" width="0.90" height="3.60" fill="#3a4670"/>
<rect x="193.40" y="496.70" width="2.90" height="1.60" fill="#34406a" fill-opacity="0.85"/>
<rect x="198.20" y="496.70" width="2.20" height="1.60" fill="#34406a" fill-opacity="0.85"/>
<rect x="189.50" y="501.50" width="2.50" height="1.80" fill="#d4952e"/>
<rect x="189.50" y="504.20" width="3.00" height="1.60" fill="#4f86d0"/>
<rect x="189.50" y="507.05" width="4.50" height="1.90" fill="#961538"/>
<rect x="201.00" y="511.10" width="9.40" height="3.00" fill="#e6eaef" stroke="#a9b6c4" stroke-width="0.7"/>
<rect x="189.50" y="510.80" width="11.50" height="3.60" fill="#cfd8ec"/>
<rect x="189.70" y="510.80" width="0.90" height="3.60" fill="#3a4670"/>
<rect x="193.40" y="512.30" width="2.90" height="1.60" fill="#34406a" fill-opacity="0.85"/>
<rect x="198.20" y="512.30" width="2.20" height="1.60" fill="#34406a" fill-opacity="0.85"/>
<rect x="189.50" y="517.10" width="2.50" height="1.80" fill="#d4952e"/>
<rect x="189.50" y="519.80" width="3.00" height="1.60" fill="#4f86d0"/>
<rect x="189.50" y="522.65" width="4.50" height="1.90" fill="#961538"/>
<rect x="189.50" y="526.60" width="13.50" height="3.60" fill="#cfd8ec"/>
<rect x="189.70" y="526.60" width="0.90" height="3.60" fill="#3a4670"/>
<rect x="193.40" y="528.10" width="2.90" height="1.60" fill="#34406a" fill-opacity="0.85"/>
<rect x="198.20" y="528.10" width="2.90" height="1.60" fill="#34406a" fill-opacity="0.85"/>
<rect x="189.50" y="532.90" width="2.50" height="1.80" fill="#d4952e"/>
<rect x="189.50" y="535.60" width="2.00" height="1.60" fill="#4f86d0"/>
<rect x="189.50" y="538.45" width="2.50" height="1.90" fill="#961538"/>
<rect x="189.50" y="542.30" width="13.50" height="3.60" fill="#cfd8ec"/>
<rect x="189.70" y="542.30" width="0.90" height="3.60" fill="#3a4670"/>
<rect x="193.40" y="543.80" width="2.90" height="1.60" fill="#34406a" fill-opacity="0.85"/>
<rect x="198.20" y="543.80" width="2.90" height="1.60" fill="#34406a" fill-opacity="0.85"/>
<rect x="189.50" y="548.60" width="2.50" height="1.80" fill="#d4952e"/>
<rect x="189.50" y="551.30" width="2.00" height="1.60" fill="#4f86d0"/>
<rect x="189.50" y="554.15" width="2.50" height="1.90" fill="#961538"/>
<text x="185.20" y="405.10" font-size="6.0" fill="#6a6a6a" text-anchor="middle">1</text>
<text x="185.20" y="420.70" font-size="6.0" fill="#6a6a6a" text-anchor="middle">2</text>
<text x="185.20" y="436.70" font-size="6.0" fill="#6a6a6a" text-anchor="middle">3</text>
<text x="185.20" y="451.70" font-size="6.0" fill="#6a6a6a" text-anchor="middle">4</text>
<text x="185.20" y="467.70" font-size="6.0" fill="#6a6a6a" text-anchor="middle">5</text>
<text x="185.20" y="485.20" font-size="6.0" fill="#6a6a6a" text-anchor="middle">6</text>
<text x="185.20" y="503.20" font-size="6.0" fill="#6a6a6a" text-anchor="middle">7</text>
<text x="185.20" y="518.70" font-size="6.0" fill="#6a6a6a" text-anchor="middle">8</text>
<text x="185.20" y="534.50" font-size="6.0" fill="#6a6a6a" text-anchor="middle">9</text>
<text x="184.80" y="550.20" font-size="6.0" fill="#6a6a6a" text-anchor="middle">10</text>
<text x="190.40" y="560.10" font-size="6.3" fill="#222" textLength="21.5" lengthAdjust="spacingAndGlyphs" stroke="#222" stroke-width="0.2">Processes</text>
<text x="266.00" y="394.50" font-size="5.0" font-weight="bold" fill="#333" textLength="24.3" lengthAdjust="spacingAndGlyphs">-log(pValue)</text>
<text x="270.40" y="407.10" font-size="4.55" fill="#5c5c5c">1. cell cycle process</text>
<text x="270.40" y="422.70" font-size="4.55" fill="#5c5c5c">2. cell cycle</text>
<text x="270.40" y="438.30" font-size="4.55" fill="#5c5c5c">3. mitotic cell cycle</text>
<text x="270.40" y="453.50" font-size="4.55" fill="#5c5c5c">4. mitotic cell cycle process</text>
<text x="269.50" y="469.30" font-size="4.55" fill="#5c5c5c">5. protein complex subunit organization</text>
<text x="269.50" y="483.30" font-size="4.55" fill="#5c5c5c">6. protein-DNA complex subunit</text>
<text x="275.00" y="491.50" font-size="4.55" fill="#5c5c5c">organization</text>
<text x="269.50" y="504.60" font-size="4.55" fill="#5c5c5c">7. protein complex assembly</text>
<text x="269.50" y="520.50" font-size="4.55" fill="#5c5c5c">8. protein complex biogenesis</text>
<text x="269.50" y="536.10" font-size="4.55" fill="#5c5c5c">9. nucleosome organization</text>
<text x="267.80" y="551.70" font-size="4.55" fill="#5c5c5c">10. protein-DNA complex assembly</text>
<text x="351.40" y="377.20" font-size="10.5" font-weight="bold" fill="#000" stroke="#000" stroke-width="0.3">F</text>
<line x1="370.25" y1="398.00" x2="370.25" y2="552.00" stroke="#f0f0f0" stroke-width="0.6"/>
<line x1="382.70" y1="398.00" x2="382.70" y2="552.00" stroke="#f0f0f0" stroke-width="0.6"/>
<line x1="395.15" y1="398.00" x2="395.15" y2="552.00" stroke="#f0f0f0" stroke-width="0.6"/>
<line x1="407.60" y1="398.00" x2="407.60" y2="552.00" stroke="#f0f0f0" stroke-width="0.6"/>
<line x1="420.05" y1="398.00" x2="420.05" y2="552.00" stroke="#f0f0f0" stroke-width="0.6"/>
<line x1="357.00" y1="398.00" x2="432.30" y2="398.00" stroke="#cccccc" stroke-width="0.8"/>
<line x1="357.00" y1="398.00" x2="357.00" y2="552.00" stroke="#e2dfe4" stroke-width="0.8"/>
<line x1="432.30" y1="398.00" x2="432.30" y2="552.00" stroke="#d8d8d8" stroke-width="0.8"/>
<line x1="370.25" y1="396.50" x2="370.25" y2="398.00" stroke="#c8c8c8" stroke-width="0.6"/>
<text x="370.25" y="396.30" font-size="5.2" fill="#4a4a4a" text-anchor="middle">3</text>
<line x1="382.70" y1="396.50" x2="382.70" y2="398.00" stroke="#c8c8c8" stroke-width="0.6"/>
<text x="382.70" y="396.30" font-size="5.2" fill="#4a4a4a" text-anchor="middle">6</text>
<line x1="395.15" y1="396.50" x2="395.15" y2="398.00" stroke="#c8c8c8" stroke-width="0.6"/>
<text x="395.15" y="396.30" font-size="5.2" fill="#4a4a4a" text-anchor="middle">9</text>
<line x1="407.60" y1="396.50" x2="407.60" y2="398.00" stroke="#c8c8c8" stroke-width="0.6"/>
<text x="407.60" y="396.30" font-size="5.2" fill="#4a4a4a" text-anchor="middle">12</text>
<line x1="420.05" y1="396.50" x2="420.05" y2="398.00" stroke="#c8c8c8" stroke-width="0.6"/>
<text x="420.05" y="396.30" font-size="5.2" fill="#4a4a4a" text-anchor="middle">15</text>
<rect x="381.30" y="401.30" width="46.40" height="3.20" fill="#b3bec8"/>
<rect x="357.80" y="401.10" width="23.50" height="3.60" fill="#cfd8ec"/>
<rect x="358.00" y="401.10" width="0.90" height="3.60" fill="#3a4670"/>
<rect x="361.70" y="402.60" width="2.90" height="1.60" fill="#34406a" fill-opacity="0.85"/>
<rect x="366.50" y="402.60" width="2.90" height="1.60" fill="#34406a" fill-opacity="0.85"/>
<rect x="371.30" y="402.60" width="2.90" height="1.60" fill="#34406a" fill-opacity="0.85"/>
<rect x="376.10" y="402.60" width="2.90" height="1.60" fill="#34406a" fill-opacity="0.85"/>
<rect x="357.90" y="406.60" width="1.00" height="1.60" fill="#2a2a40"/>
<rect x="357.80" y="409.60" width="17.50" height="1.60" fill="#4f86d0"/>
<rect x="357.80" y="411.95" width="5.90" height="1.90" fill="#961538"/>
<rect x="377.90" y="415.40" width="51.00" height="3.20" fill="#b3bec8"/>
<rect x="357.80" y="415.20" width="20.10" height="3.60" fill="#cfd8ec"/>
<rect x="358.00" y="415.20" width="0.90" height="3.60" fill="#3a4670"/>
<rect x="361.70" y="416.70" width="2.90" height="1.60" fill="#34406a" fill-opacity="0.85"/>
<rect x="366.50" y="416.70" width="2.90" height="1.60" fill="#34406a" fill-opacity="0.85"/>
<rect x="371.30" y="416.70" width="2.90" height="1.60" fill="#34406a" fill-opacity="0.85"/>
<rect x="376.10" y="416.70" width="1.20" height="1.60" fill="#34406a" fill-opacity="0.85"/>
<rect x="357.90" y="420.70" width="1.00" height="1.60" fill="#2a2a40"/>
<rect x="357.80" y="423.70" width="36.90" height="1.60" fill="#4f86d0"/>
<rect x="357.80" y="426.05" width="2.80" height="1.90" fill="#961538"/>
<rect x="373.50" y="429.80" width="42.50" height="3.20" fill="#b3bec8"/>
<rect x="357.80" y="429.60" width="15.70" height="3.60" fill="#cfd8ec"/>
<rect x="358.00" y="429.60" width="0.90" height="3.60" fill="#3a4670"/>
<rect x="361.70" y="431.10" width="2.90" height="1.60" fill="#34406a" fill-opacity="0.85"/>
<rect x="366.50" y="431.10" width="2.90" height="1.60" fill="#34406a" fill-opacity="0.85"/>
<rect x="371.30" y="431.10" width="1.60" height="1.60" fill="#34406a" fill-opacity="0.85"/>
<rect x="357.80" y="435.00" width="3.60" height="1.80" fill="#d4952e"/>
<rect x="357.80" y="438.10" width="38.80" height="1.60" fill="#4f86d0"/>
<rect x="357.80" y="440.45" width="4.00" height="1.90" fill="#961538"/>
<rect x="357.80" y="444.30" width="14.90" height="3.60" fill="#cfd8ec"/>
<rect x="358.00" y="444.30" width="0.90" height="3.60" fill="#3a4670"/>
<rect x="361.70" y="445.80" width="2.90" height="1.60" fill="#34406a" fill-opacity="0.85"/>
<rect x="366.50" y="445.80" width="2.90" height="1.60" fill="#34406a" fill-opacity="0.85"/>
<rect x="371.30" y="445.80" width="0.80" height="1.60" fill="#34406a" fill-opacity="0.85"/>
<rect x="357.90" y="449.80" width="1.00" height="1.60" fill="#2a2a40"/>
<rect x="357.90" y="452.80" width="1.00" height="1.60" fill="#2a2a40"/>
<rect x="357.90" y="455.30" width="1.00" height="1.60" fill="#2a2a40"/>
<rect x="372.00" y="458.10" width="3.40" height="3.00" fill="#e6eaef" stroke="#a9b6c4" stroke-width="0.7"/>
<rect x="357.80" y="457.80" width="14.20" height="3.60" fill="#cfd8ec"/>
<rect x="358.00" y="457.80" width="0.90" height="3.60" fill="#3a4670"/>
<rect x="361.70" y="459.30" width="2.90" height="1.60" fill="#34406a" fill-opacity="0.85"/>
<rect x="366.50" y="459.30" width="2.90" height="1.60" fill="#34406a" fill-opacity="0.85"/>
<rect x="357.80" y="463.20" width="1.70" height="1.80" fill="#d4952e"/>
<rect x="357.80" y="466.30" width="7.50" height="1.60" fill="#4f86d0"/>
<rect x="357.80" y="468.65" width="7.50" height="1.90" fill="#961538"/>
<rect x="367.00" y="472.00" width="57.00" height="3.20" fill="#b3bec8"/>
<rect x="357.80" y="471.80" width="9.20" height="3.60" fill="#cfd8ec"/>
<rect x="358.00" y="471.80" width="0.90" height="3.60" fill="#3a4670"/>
<rect x="361.70" y="473.30" width="2.90" height="1.60" fill="#34406a" fill-opacity="0.85"/>
<rect x="357.90" y="477.30" width="1.00" height="1.60" fill="#2a2a40"/>
<rect x="357.80" y="480.30" width="33.00" height="1.60" fill="#4f86d0"/>
<rect x="357.80" y="482.65" width="12.70" height="1.90" fill="#961538"/>
<rect x="357.80" y="488.40" width="4.70" height="3.60" fill="#cfd8ec"/>
<rect x="358.00" y="488.40" width="0.90" height="3.60" fill="#3a4670"/>
<rect x="357.90" y="493.90" width="1.00" height="1.60" fill="#2a2a40"/>
<rect x="357.90" y="496.90" width="1.00" height="1.60" fill="#2a2a40"/>
<rect x="357.90" y="499.40" width="1.00" height="1.60" fill="#2a2a40"/>
<rect x="357.80" y="506.90" width="4.70" height="3.60" fill="#cfd8ec"/>
<rect x="358.00" y="506.90" width="0.90" height="3.60" fill="#3a4670"/>
<rect x="357.80" y="512.30" width="7.20" height="1.80" fill="#d4952e"/>
<rect x="357.90" y="515.40" width="1.00" height="1.60" fill="#2a2a40"/>
<rect x="357.90" y="517.90" width="1.00" height="1.60" fill="#2a2a40"/>
<rect x="366.00" y="522.60" width="17.70" height="3.20" fill="#b3bec8"/>
<rect x="357.80" y="522.40" width="8.20" height="3.60" fill="#cfd8ec"/>
<rect x="358.00" y="522.40" width="0.90" height="3.60" fill="#3a4670"/>
<rect x="361.70" y="523.90" width="2.90" height="1.60" fill="#34406a" fill-opacity="0.85"/>
<rect x="357.90" y="527.90" width="1.00" height="1.60" fill="#2a2a40"/>
<rect x="357.80" y="530.90" width="5.20" height="1.60" fill="#4f86d0"/>
<rect x="357.80" y="533.25" width="5.20" height="1.90" fill="#961538"/>
<rect x="357.80" y="538.60" width="5.70" height="3.60" fill="#cfd8ec"/>
<rect x="358.00" y="538.60" width="0.90" height="3.60" fill="#3a4670"/>
<rect x="361.70" y="540.10" width="1.20" height="1.60" fill="#34406a" fill-opacity="0.85"/>
<rect x="357.90" y="544.10" width="1.00" height="1.60" fill="#2a2a40"/>
<rect x="357.90" y="547.10" width="1.00" height="1.60" fill="#2a2a40"/>
<rect x="357.90" y="549.60" width="1.00" height="1.60" fill="#2a2a40"/>
<text x="353.70" y="409.10" font-size="6.0" fill="#6a6a6a" text-anchor="middle">1</text>
<text x="353.70" y="423.20" font-size="6.0" fill="#6a6a6a" text-anchor="middle">2</text>
<text x="353.70" y="437.70" font-size="6.0" fill="#6a6a6a" text-anchor="middle">3</text>
<text x="353.70" y="452.20" font-size="6.0" fill="#6a6a6a" text-anchor="middle">4</text>
<text x="353.70" y="465.70" font-size="6.0" fill="#6a6a6a" text-anchor="middle">5</text>
<text x="353.70" y="479.70" font-size="6.0" fill="#6a6a6a" text-anchor="middle">6</text>
<text x="353.70" y="496.70" font-size="6.0" fill="#6a6a6a" text-anchor="middle">7</text>
<text x="353.70" y="514.70" font-size="6.0" fill="#6a6a6a" text-anchor="middle">8</text>
<text x="353.70" y="530.20" font-size="6.0" fill="#6a6a6a" text-anchor="middle">9</text>
<text x="353.20" y="546.70" font-size="6.0" fill="#6a6a6a" text-anchor="middle">10</text>
<text x="358.20" y="557.00" font-size="6.3" fill="#222" textLength="19.7" lengthAdjust="spacingAndGlyphs" stroke="#222" stroke-width="0.2">Networks</text>
<text x="434.00" y="398.80" font-size="5.0" font-weight="bold" fill="#333" textLength="23.8" lengthAdjust="spacingAndGlyphs">-log(pValue)</text>
<text x="438.20" y="410.50" font-size="4.55" fill="#5c5c5c">1. Cell cycle_S phase</text>
<text x="438.20" y="424.70" font-size="4.55" fill="#5c5c5c">2. Cell cycle_Mitosis</text>
<text x="438.20" y="438.80" font-size="4.55" fill="#5c5c5c">3. Cytoskeleton_Spindle microtubules</text>
<text x="438.20" y="452.50" font-size="4.55" fill="#5c5c5c">4. Transcription_Chromatin modification</text>
<text x="438.20" y="466.80" font-size="4.55" fill="#5c5c5c">5. Cell cycle_G1-S</text>
<text x="438.20" y="481.20" font-size="4.55" fill="#5c5c5c">6. Cell cycle_Core</text>
<text x="438.20" y="493.60" font-size="4.55" fill="#5c5c5c">7. Reproduction_Male sex</text>
<text x="443.00" y="501.00" font-size="4.55" fill="#5c5c5c">differentiation</text>
<text x="438.20" y="511.40" font-size="4.55" fill="#5c5c5c">8. Apoptosis_Endoplasmic reticulum</text>
<text x="443.00" y="519.60" font-size="4.55" fill="#5c5c5c">stress pathway</text>
<text x="438.20" y="531.50" font-size="4.55" fill="#5c5c5c">9. DNA damage_Checkpoint</text>
<text x="436.40" y="543.90" font-size="4.55" fill="#5c5c5c">10. Reproduction_Spermatogenesis,</text>
<text x="443.00" y="551.60" font-size="4.55" fill="#5c5c5c">motility and copulation</text>
<polygon points="82.9,587.9 89.2,587.9 82.9,594.6" fill="#3b5273"/>
<polygon points="92.7,588.8 92.7,595.4 86.6,595.4" fill="#3c5a7d"/>
<rect x="82.9" y="587.9" width="9.8" height="7.5" fill="none" stroke="#c4d0de" stroke-width="0.5"/>
<text x="97.20" y="594.60" font-size="7.4" font-weight="bold" fill="#111" textLength="31.6" lengthAdjust="spacingAndGlyphs">Common</text>
<rect x="138.5" y="589.3" width="7.8" height="5.6" fill="#fff" stroke="#9a9a9a" stroke-width="0.8"/>
<text x="152.00" y="594.60" font-size="7.4" font-weight="bold" fill="#111" textLength="24.6" lengthAdjust="spacingAndGlyphs">Similar</text>
<rect x="186.50" y="589.50" width="8.50" height="5.10" fill="#e59a2d"/>
<text x="203.00" y="594.60" font-size="7.4" font-weight="bold" fill="#111" textLength="44.4" lengthAdjust="spacingAndGlyphs">BC-1 Unique</text>
<rect x="263.90" y="588.80" width="9.90" height="5.40" fill="#b5163e"/>
<text x="277.00" y="594.60" font-size="7.4" font-weight="bold" fill="#111" textLength="52.0" lengthAdjust="spacingAndGlyphs">BCBL-1 Unique</text>
<rect x="338.50" y="588.80" width="10.50" height="5.40" fill="#5a95e0"/>
<text x="352.00" y="594.60" font-size="7.4" font-weight="bold" fill="#111" textLength="49.0" lengthAdjust="spacingAndGlyphs">BCP-1 Unique</text>
</svg>
</body></html>
